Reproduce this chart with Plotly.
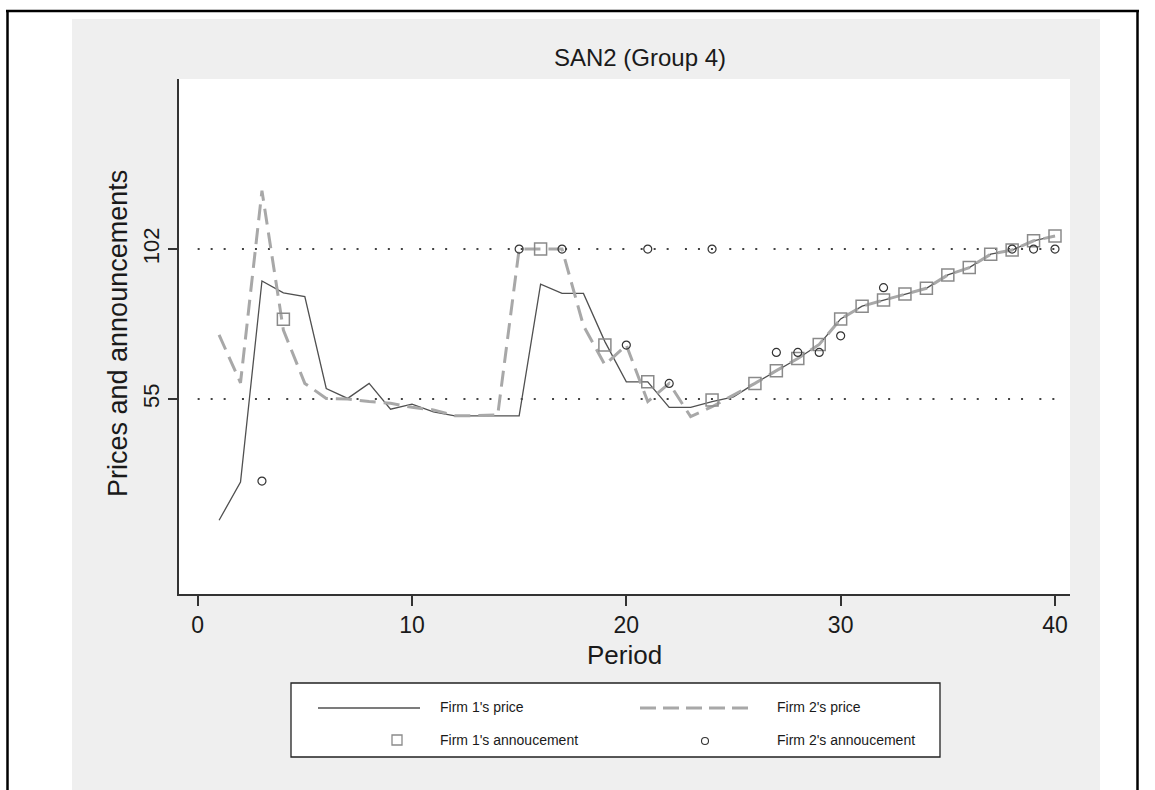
import plotly.graph_objects as go

# ---------------- data ----------------
periods = list(range(1, 41))

firm1_price = [17, 29, 92, 88.3, 87.1, 58.3, 55.2, 59.9, 51.8, 53.4,
               51, 49.7, 49.7, 49.7, 49.7, 91, 88.1, 88.1, 73, 60.4,
               60.4, 52.4, 52.4, 54.2, 55.7, 59.9, 63.9, 67.7, 72.1, 80.1,
               84.1, 86.0, 87.9, 89.7, 93.9, 96.2, 100.4, 101.7, 104.6, 106.1]

firm2_price = [75.1, 60.1, 120.3, 76.6, 59.9, 55.2, 55, 54.2, 53.7, 52.4,
               51.6, 49.8, 49.8, 50, 102, 102, 102, 78, 65.7, 71.9,
               54.2, 59.9, 49.5, 52.6, 56.3, 59.9, 63.9, 67.7, 72.1, 80.1,
               84.1, 86.0, 87.9, 89.7, 93.9, 96.2, 100.4, 101.7, 104.6, 106.1]

firm1_ann_t = [4, 16, 19, 21, 24, 26, 27, 28, 29, 30, 31, 32, 33, 34, 35, 36, 37, 38, 39, 40]
firm1_ann_v = [80.0, 102, 71.9, 60.4, 54.7, 59.9, 63.9, 67.7, 72.1, 80.1,
               84.1, 86.0, 87.9, 89.7, 93.9, 96.2, 100.4, 101.7, 104.6, 106.1]

firm2_ann_t = [3, 15, 17, 20, 21, 22, 24, 27, 28, 29, 30, 32, 38, 39, 40]
firm2_ann_v = [29.3, 102, 102, 71.9, 102, 59.9, 102, 69.6, 69.6, 69.6, 74.8, 89.9, 102, 102, 102]

ref_levels = [55, 102]
x_ticks = [0, 10, 20, 30, 40]
y_ticks = [55, 102]

# ---------------- layout geometry (pixels) ----------------
W, H = 1155, 790
L, R, T, B = 179, 1070, 79, 594  # plot area edges


def px(xp):
    return (xp - L) / (R - L)


def py(yp):
    return (B - yp) / (B - T)


FONT = "Liberation Sans, Arial, sans-serif"
TXT = "#1a1a1a"
C1 = "#505050"
C2 = "#a8a8a8"
SQ = "#8a8a8a"
CI = "#333333"

fig = go.Figure()
fig.add_trace(go.Scatter(x=periods, y=firm1_price, mode="lines",
                         line=dict(color=C1, width=1.3), name="Firm 1's price"))
fig.add_trace(go.Scatter(x=periods, y=firm2_price, mode="lines",
                         line=dict(color=C2, width=3, dash="16px,8px"), name="Firm 2's price"))
fig.add_trace(go.Scatter(x=firm1_ann_t, y=firm1_ann_v, mode="markers",
                         marker=dict(symbol="square-open", size=12, color=SQ, line=dict(width=1.5, color=SQ)),
                         name="Firm 1's annoucement"))
fig.add_trace(go.Scatter(x=firm2_ann_t, y=firm2_ann_v, mode="markers",
                         marker=dict(symbol="circle-open", size=8, color=CI, line=dict(width=1.2, color=CI)),
                         name="Firm 2's annoucement"))

shapes = []
# white areas outside the gray graph region
shapes.append(dict(type="rect", xref="paper", yref="paper", x0=px(0), x1=px(72), y0=py(790), y1=py(0),
                   fillcolor="white", line=dict(width=0), layer="below"))
shapes.append(dict(type="rect", xref="paper", yref="paper", x0=px(1100), x1=px(1155), y0=py(790), y1=py(0),
                   fillcolor="white", line=dict(width=0), layer="below"))
shapes.append(dict(type="rect", xref="paper", yref="paper", x0=px(0), x1=px(1155), y0=py(19), y1=py(0),
                   fillcolor="white", line=dict(width=0), layer="below"))
# black frame lines
shapes.append(dict(type="line", xref="paper", yref="paper", x0=px(7.5), x1=px(7.5), y0=py(10), y1=py(790),
                   line=dict(color="black", width=2.5)))
shapes.append(dict(type="line", xref="paper", yref="paper", x0=px(6), x1=px(1139), y0=py(11), y1=py(11),
                   line=dict(color="black", width=2.5)))
shapes.append(dict(type="line", xref="paper", yref="paper", x0=px(1137.5), x1=px(1137.5), y0=py(10), y1=py(790),
                   line=dict(color="black", width=2.5)))
# dotted reference lines
for lv in ref_levels:
    shapes.append(dict(type="line", xref="x", yref="y", x0=0, x1=40, y0=lv, y1=lv,
                       line=dict(color="#444444", width=2, dash="2px,11px,2px,11px,2px,16.3px"),
                       layer="below"))
# legend box
shapes.append(dict(type="rect", xref="paper", yref="paper", x0=px(291), x1=px(940), y0=py(757), y1=py(683),
                   fillcolor="white", line=dict(color="#222222", width=1.3)))
shapes.append(dict(type="line", xref="paper", yref="paper", x0=px(318), x1=px(420), y0=py(708), y1=py(708),
                   line=dict(color=C1, width=1.3)))
shapes.append(dict(type="line", xref="paper", yref="paper", x0=px(640), x1=px(750), y0=py(708), y1=py(708),
                   line=dict(color=C2, width=3, dash="16px,7px")))
shapes.append(dict(type="rect", xref="paper", yref="paper", x0=px(392), x1=px(402), y0=py(745), y1=py(735),
                   line=dict(color=SQ, width=1.3)))
shapes.append(dict(type="circle", xref="paper", yref="paper", x0=px(701.5), x1=px(708.5), y0=py(744.5), y1=py(737.5),
                   line=dict(color=CI, width=1.1)))

annotations = [
    dict(text="SAN2 (Group 4)", x=px(640), y=py(58), xref="paper", yref="paper", showarrow=False,
         xanchor="center", yanchor="middle", font=dict(family=FONT, size=24, color=TXT)),
    dict(text="Prices and announcements", x=px(118), y=py(334), xref="paper", yref="paper", showarrow=False,
         textangle=-90, xanchor="center", yanchor="middle", font=dict(family=FONT, size=27, color=TXT)),
    dict(text="Period", x=px(624), y=py(655), xref="paper", yref="paper", showarrow=False,
         xanchor="center", yanchor="middle", font=dict(family=FONT, size=26, color=TXT)),
]
leg_items = [("Firm 1's price", 438, 707), ("Firm 2's price", 775, 707),
             ("Firm 1's annoucement", 438, 740), ("Firm 2's annoucement", 775, 740)]
for txt, xx, yy in leg_items:
    annotations.append(dict(text=txt, x=px(xx), y=py(yy), xref="paper", yref="paper", showarrow=False,
                            xanchor="left", yanchor="middle", font=dict(family=FONT, size=14, color=TXT)))

fig.update_layout(
    width=W, height=H,
    margin=dict(l=L, r=W - R, t=T, b=H - B, pad=0),
    paper_bgcolor="#efefef", plot_bgcolor="white",
    showlegend=False,
    shapes=shapes, annotations=annotations,
    xaxis=dict(range=[-0.87, 40.7], tickvals=x_ticks, ticks="outside", ticklen=10, tickwidth=1.5,
               tickcolor="#333333", showline=True, linecolor="#333333", linewidth=1.5,
               showgrid=False, zeroline=False, tickfont=dict(family=FONT, size=23, color=TXT)),
    yaxis=dict(range=[-6.1, 155.3], tickvals=y_ticks, ticks="outside", ticklen=9, tickwidth=1.5,
               tickcolor="#333333", showline=True, linecolor="#333333", linewidth=1.5,
               showgrid=False, zeroline=False, tickangle=-90,
               tickfont=dict(family=FONT, size=22, color=TXT)),
)

fig.write_html("out.html")
